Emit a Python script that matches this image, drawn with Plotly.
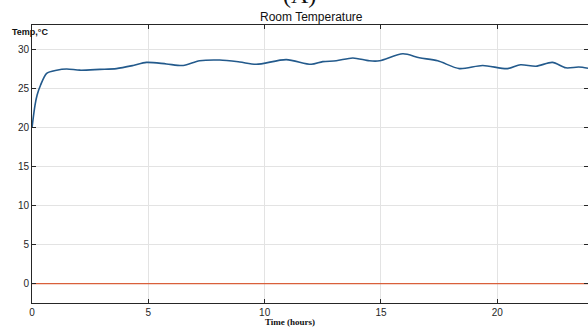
import plotly.graph_objects as go

time_h = [0, 0.13, 0.22, 0.37, 0.63, 1.06, 1.49, 2.06, 2.92, 3.63, 4.35, 4.92, 5.78, 6.5, 7.2,
          8.07, 8.93, 9.64, 10.93, 12.0, 12.5, 13.08, 13.79, 14.5, 14.94, 15.94, 16.65, 17.44,
          18.37, 19.37, 20.44, 21.0, 21.66, 22.37, 22.95, 23.5, 23.9]
room_temp = [20.0, 22.9, 24.2, 25.5, 27.0, 27.4, 27.55, 27.4, 27.5, 27.6, 28.0, 28.4, 28.2, 28.0, 28.6,
             28.7, 28.45, 28.15, 28.75, 28.15, 28.5, 28.6, 28.97, 28.6, 28.6, 29.5, 29.0, 28.6,
             27.6, 28.0, 27.6, 28.1, 27.9, 28.4, 27.7, 27.8, 27.65]
ref_time = [0, 24]
ref_temp = [0, 0]

x_ticks = [0, 5, 10, 15, 20]
y_ticks = [0, 5, 10, 15, 20, 25, 30]

fig = go.Figure()
fig.add_trace(go.Scatter(x=ref_time, y=ref_temp, mode="lines",
                         line=dict(color="#d9603b", width=1.3), showlegend=False))
fig.add_trace(go.Scatter(x=time_h, y=room_temp, mode="lines",
                         line=dict(color="#235a8c", width=1.6, shape="spline", smoothing=0.8),
                         showlegend=False))

axis_common = dict(showline=True, linecolor="#262626", linewidth=1, mirror="ticks",
                   ticks="inside", ticklen=4, tickcolor="#262626", automargin=False,
                   showgrid=True, gridcolor="#e3e3e3", gridwidth=1, zeroline=False,
                   tickfont=dict(family="Arial, Liberation Sans", size=10, color="#262626"))

fig.update_xaxes(range=[0, 23.9], tickvals=x_ticks, **axis_common)
fig.update_yaxes(range=[-2.5, 33.2], tickvals=y_ticks, **axis_common)

fig.update_layout(
    width=588, height=329,
    margin=dict(l=32, r=0, t=25, b=26),
    plot_bgcolor="white", paper_bgcolor="white",
    annotations=[
        dict(text="Room Temperature", x=(311 - 32) / 556, xref="paper", y=(303 - 17) / 278, yref="paper",
             showarrow=False, xanchor="center", yanchor="middle",
             font=dict(family="Arial, Liberation Sans", size=12, color="#111")),
        dict(text="(A)", x=(299 - 32) / 556, xref="paper", y=(303 - 10) / 278, yref="paper",
             showarrow=False, xanchor="center", yanchor="bottom",
             font=dict(family="Liberation Serif, Times New Roman", size=24, color="#111")),
        dict(text="<b>Temp,°C</b>", x=(29.5 - 32) / 556, xref="paper", y=(303 - 32) / 278, yref="paper",
             showarrow=False, xanchor="center", yanchor="middle",
             font=dict(family="Arial, Liberation Sans", size=9, color="#111")),
        dict(text="<b>Time (hours)</b>", x=(290 - 32) / 556, xref="paper", y=(303 - 322) / 278, yref="paper",
             showarrow=False, xanchor="center", yanchor="middle",
             font=dict(family="Liberation Serif, Times New Roman", size=9, color="#111")),
    ],
)

fig.write_html("out.html", config={"displayModeBar": False},
               post_script="document.body.style.margin='0';")
